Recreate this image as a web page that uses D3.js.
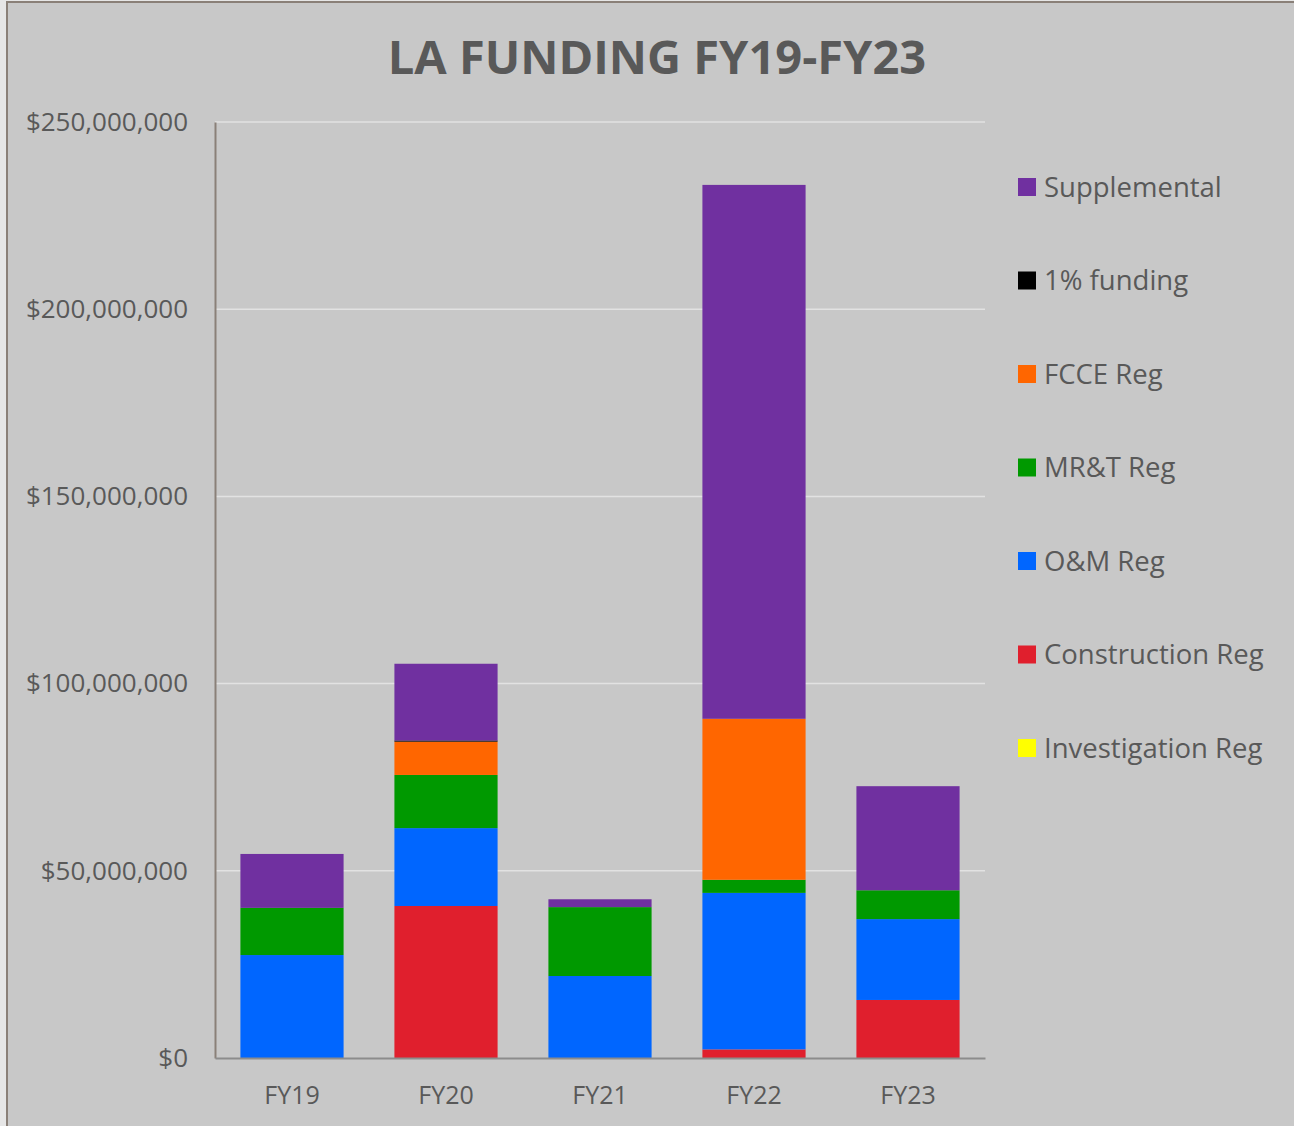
<!DOCTYPE html>
<html>
<head>
<meta charset="utf-8">
<script src="https://cdn.jsdelivr.net/npm/d3@7"></script>
<style>
  body { margin: 0; background: #e6e6e6; }
  svg { display: block; }
</style>
</head>
<body>
<svg id="chart"></svg>
<script>
// years on the x axis
const years = ["FY19", "FY20", "FY21", "FY22", "FY23"];

// funding in millions of dollars, bottom of stack first
const investigationReg = [0, 0, 0, 0, 0];
const constructionReg = [0, 40.6, 0, 2.3, 15.5];
const omReg = [27.5, 20.8, 21.9, 41.8, 21.6];
const mrtReg = [12.6, 14.2, 18.4, 3.5, 7.7];
const fcceReg = [0, 8.9, 0, 43.0, 0];
const onePercent = [0, 0.3, 0, 0, 0];
const supplemental = [14.4, 20.5, 2.1, 142.6, 27.8];

const seriesNames = ["Investigation Reg", "Construction Reg", "O&M Reg", "MR&T Reg", "FCCE Reg", "1% funding", "Supplemental"];
const seriesValues = [investigationReg, constructionReg, omReg, mrtReg, fcceReg, onePercent, supplemental];
const seriesColors = ["#ffff00", "#e01f2d", "#0066ff", "#009900", "#ff6600", "#000000", "#7030a0"];

const yTicks = [0, 50, 100, 150, 200, 250];

const W = 1294, H = 1126;
const margin = { top: 122, left: 215, right: 309, bottom: 68 };
const width = W - margin.left - margin.right;
const height = H - margin.top - margin.bottom;
const font = "'Open Sans', 'Liberation Sans', sans-serif";
const textColor = "#595959";

const svg = d3.select("#chart").attr("width", W).attr("height", H);

// outer chart frame
svg.append("rect")
  .attr("x", 7).attr("y", 2)
  .attr("width", W).attr("height", H)
  .attr("fill", "#c8c8c8")
  .attr("stroke", "#8a8078")
  .attr("stroke-width", 2);

// build table for stacking
const table = years.map((y, i) => {
  const row = { year: y };
  seriesNames.forEach((s, k) => row[s] = seriesValues[k][i]);
  return row;
});
const stacked = d3.stack().keys(seriesNames)(table);

const x = d3.scaleBand().domain(years).range([0, width]).paddingInner(0.33).paddingOuter(0.165);
const y = d3.scaleLinear().domain([0, 250]).range([height, 0]);
const color = d3.scaleOrdinal().domain(seriesNames).range(seriesColors);

const chart = svg.append("g").attr("transform", `translate(${margin.left},${margin.top})`);

// gridlines
chart.append("g")
  .selectAll("line")
  .data(yTicks.filter(d => d > 0))
  .enter().append("line")
  .attr("x1", 0).attr("x2", width)
  .attr("y1", d => y(d)).attr("y2", d => y(d))
  .attr("stroke", "#e2e2e2")
  .attr("stroke-width", 1.5);

// stacked bars
chart.selectAll("g.series")
  .data(stacked)
  .enter().append("g")
  .attr("class", "series")
  .attr("fill", d => color(d.key))
  .selectAll("rect")
  .data(d => d)
  .enter().append("rect")
  .attr("x", d => x(d.data.year))
  .attr("y", d => y(d[1]))
  .attr("width", x.bandwidth())
  .attr("height", d => y(d[0]) - y(d[1]));

// y axis
const yAxisG = chart.append("g")
  .call(d3.axisLeft(y).tickValues(yTicks).tickSize(0).tickPadding(27)
    .tickFormat(d => d3.format("$,")(d * 1e6)));
yAxisG.select(".domain").attr("stroke", "#8a8078").attr("stroke-width", 2);
yAxisG.selectAll("text")
  .style("font-family", font).style("font-size", "26px").attr("fill", textColor);

// x axis
const xAxisG = chart.append("g")
  .attr("transform", `translate(0,${height})`)
  .call(d3.axisBottom(x).tickSize(0).tickPadding(28));
xAxisG.select(".domain").attr("stroke", "#8c8c8c").attr("stroke-width", 2);
xAxisG.selectAll("text")
  .style("font-family", font).style("font-size", "25px").attr("fill", textColor);

// title
svg.append("text")
  .attr("x", 657).attr("y", 74)
  .attr("text-anchor", "middle")
  .style("font-family", font).style("font-size", "47px").style("font-weight", "bold")
  .attr("fill", textColor)
  .text("LA FUNDING FY19-FY23");

// legend, top entry is last series
const legendNames = seriesNames.slice().reverse();
const legend = svg.append("g").attr("transform", "translate(1018,187)");
const item = legend.selectAll("g")
  .data(legendNames)
  .enter().append("g")
  .attr("transform", (d, i) => `translate(0,${i * 93.5})`);
item.append("rect")
  .attr("x", 0).attr("y", -9)
  .attr("width", 18).attr("height", 18)
  .attr("fill", d => color(d));
item.append("text")
  .attr("x", 26).attr("y", 0).attr("dy", "0.36em")
  .style("font-family", font).style("font-size", "27.5px")
  .attr("fill", textColor)
  .text(d => d);
</script>
</body>
</html>
